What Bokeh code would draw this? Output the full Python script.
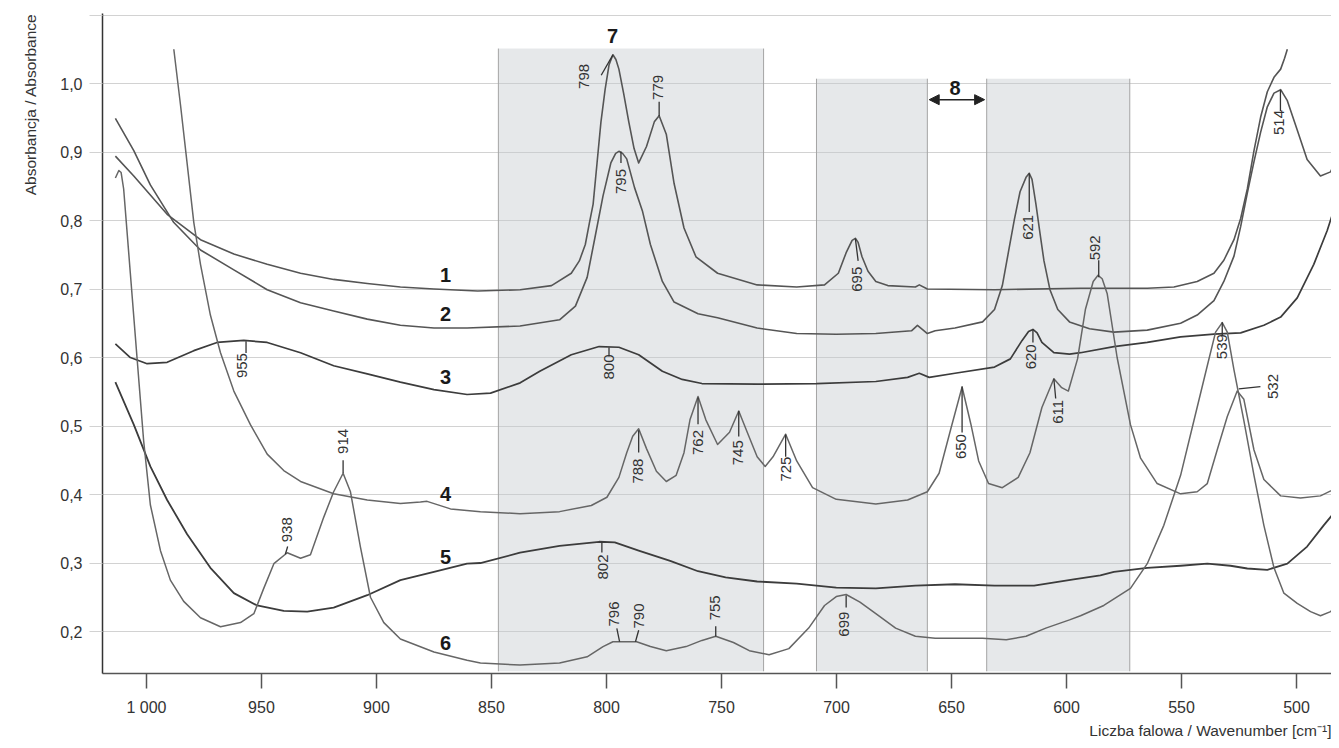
import math
from bokeh.plotting import figure
from bokeh.models import Range1d, FixedTicker, Label, Arrow, NormalHead, ColumnDataSource, Title
from bokeh.embed import file_html
from bokeh.resources import INLINE
from bokeh.core.properties import value

# ---------------- data (wavenumber cm-1, absorbance) ----------------
c1_w = [1013.5, 1005.5, 991, 976.5, 962, 947.5, 933, 918.6, 904, 889.6, 875, 856, 837.5, 823.9, 815.3,
        811.8, 809.2, 807.5, 805.8, 804.1, 802.4, 800.6, 798.9, 797.2, 795.9, 794.6, 792.5, 790.3, 788, 786.0,
        782.6, 779.2, 777.1, 774.0, 770.6, 766.3, 761.1, 751.7, 734.5, 717.3, 705.2, 699.2, 695.8, 693.2,
        691.8, 690.6, 688.9, 686.3, 682.9, 677.7, 665.7, 664.0, 660.5, 631.3, 593.9, 579.4, 564.9, 553.3,
        543.2, 535.9, 531.6, 527.2, 524.3, 521.4, 518.5, 515.6, 512.7, 509.8, 506.9, 505.2, 504.0]
c1_a = [0.894, 0.865, 0.809, 0.772, 0.751, 0.736, 0.723, 0.714, 0.708, 0.703, 0.700, 0.697, 0.699, 0.705, 0.723,
        0.741, 0.765, 0.795, 0.824, 0.884, 0.944, 0.991, 1.027, 1.042, 1.035, 1.021, 0.985, 0.944, 0.905, 0.884,
        0.908, 0.944, 0.953, 0.926, 0.854, 0.789, 0.747, 0.723, 0.706, 0.703, 0.706, 0.723, 0.753, 0.771,
        0.774, 0.768, 0.747, 0.726, 0.711, 0.705, 0.703, 0.706, 0.700, 0.699, 0.701, 0.701, 0.701, 0.703,
        0.711, 0.723, 0.742, 0.772, 0.803, 0.846, 0.902, 0.951, 0.988, 1.009, 1.021, 1.037, 1.050]

c2_w = [1013.5, 1005.5, 998.3, 988.1, 976.5, 962, 947.5, 933, 918.6, 904, 889.6, 875, 860.6, 837.6, 820.4,
        813.5, 808.4, 804.9, 801.5, 798.1, 796.0, 794.6, 793.0, 791.2, 787.8, 784.3, 780.9, 775.7, 770.6,
        760.2, 751.7, 734.5, 717.3, 700.1, 682.9, 667.4, 664.8, 662.3, 660.5, 657.1, 648.5, 636.5, 631.3,
        627.9, 625.3, 622.7, 620.2, 617.6, 616.2, 615.0, 613.3, 611.6, 609.8, 607.2, 603.8, 598.7, 590,
        579.4, 564.9, 550.4, 543.2, 535.9, 531.6, 527.2, 524.3, 521.4, 518.5, 515.6, 512.7, 509.8, 506.9,
        504.0, 499.7, 495.4, 489.6, 485.2, 482.3]
c2_a = [0.949, 0.902, 0.852, 0.797, 0.757, 0.728, 0.699, 0.680, 0.668, 0.656, 0.647, 0.643, 0.643, 0.646, 0.655,
        0.675, 0.717, 0.777, 0.836, 0.884, 0.898, 0.901, 0.898, 0.890, 0.848, 0.813, 0.765, 0.711, 0.681,
        0.664, 0.658, 0.643, 0.635, 0.634, 0.635, 0.639, 0.647, 0.640, 0.635, 0.639, 0.643, 0.652, 0.670,
        0.705, 0.753, 0.801, 0.842, 0.863, 0.869, 0.860, 0.824, 0.783, 0.741, 0.699, 0.670, 0.652, 0.642,
        0.637, 0.640, 0.650, 0.662, 0.683, 0.711, 0.748, 0.791, 0.840, 0.886, 0.929, 0.966, 0.986, 0.991,
        0.975, 0.932, 0.889, 0.865, 0.871, 0.892]

c3_w = [1013.5, 1007, 999.7, 991, 979.4, 969.3, 957.7, 947.5, 933, 918.6, 904, 889.6, 875, 860.6, 850.4,
        837.5, 829.0, 815.3, 803.2, 794.6, 786.0, 775.7, 767.1, 758.5, 734.5, 708.7, 682.9, 669.1, 664.0,
        659.7, 648.5, 631.3, 624.4, 619.3, 616.5, 614.6, 612.8, 610.7, 605.5, 598.7, 593.9, 579.4, 564.9,
        550.4, 535.9, 524.3, 514.2, 506.9, 499.7, 492.5, 486.7, 482.3]
c3_a = [0.620, 0.600, 0.591, 0.593, 0.610, 0.622, 0.625, 0.622, 0.607, 0.588, 0.576, 0.564, 0.553, 0.546, 0.548,
        0.563, 0.580, 0.604, 0.616, 0.615, 0.604, 0.580, 0.568, 0.562, 0.561, 0.562, 0.565, 0.571, 0.577,
        0.571, 0.577, 0.586, 0.598, 0.625, 0.638, 0.641, 0.636, 0.622, 0.607, 0.605, 0.607, 0.616, 0.622,
        0.630, 0.634, 0.636, 0.647, 0.659, 0.687, 0.736, 0.785, 0.831]

c4_w = [988.1, 985.2, 982.3, 979.4, 976.5, 972.2, 967.8, 962, 954.8, 947.5, 940.3, 933, 918.6, 904, 889.6,
        880.9, 878, 867.8, 854.8, 837.6, 820.4, 806.6, 799.8, 794.6, 791.2, 788.6, 786.0, 782.6, 778.3, 774.0,
        769.7, 766.3, 763.7, 760.2, 756.8, 751.7, 746.5, 742.5, 738.8, 734.5, 731.0, 727.6, 722.1, 717.3,
        710.4, 700.1, 682.9, 669.1, 660.5, 655.4, 650.2, 645.4, 641.6, 638.2, 633.9, 627.9, 621.0, 615.9,
        610.7, 605.5, 602.1, 599.2, 595.2, 591.8, 588.4, 586.3, 584.5, 582.3, 578, 572.2, 567.8, 560.6,
        550.4, 543.2, 538.8, 534.5, 530.1, 525.8, 522.9, 518.5, 514.2, 506.9, 498.3, 489.6, 482.3]
c4_a = [1.050, 0.969, 0.883, 0.797, 0.736, 0.662, 0.607, 0.551, 0.502, 0.459, 0.435, 0.419, 0.401, 0.392, 0.387,
        0.389, 0.390, 0.379, 0.375, 0.372, 0.375, 0.384, 0.396, 0.425, 0.461, 0.485, 0.496, 0.467, 0.434, 0.419,
        0.428, 0.461, 0.509, 0.543, 0.509, 0.473, 0.491, 0.522, 0.491, 0.455, 0.441, 0.455, 0.488, 0.449,
        0.410, 0.393, 0.386, 0.392, 0.404, 0.431, 0.497, 0.557, 0.503, 0.449, 0.416, 0.410, 0.425, 0.461,
        0.527, 0.569, 0.556, 0.551, 0.598, 0.670, 0.711, 0.720, 0.715, 0.693, 0.600, 0.502, 0.453, 0.416,
        0.401, 0.404, 0.416, 0.465, 0.514, 0.551, 0.539, 0.465, 0.422, 0.398, 0.395, 0.398, 0.410]

c5_w = [1013.5, 1005.5, 998.3, 991, 982.3, 972.2, 962, 951.9, 940.3, 930.1, 918.6, 904, 889.6, 875, 860.6,
        854.8, 837.6, 820.4, 803.2, 796.4, 786.0, 772.3, 760.2, 748.2, 734.5, 717.3, 700.1, 682.9, 665.7,
        648.5, 631.3, 614.1, 596.9, 585.3, 579.4, 564.9, 550.4, 538.8, 528.7, 521.4, 512.7, 504, 495.4,
        488.2, 482.3]
c5_a = [0.564, 0.502, 0.441, 0.392, 0.342, 0.293, 0.256, 0.238, 0.230, 0.229, 0.235, 0.253, 0.275, 0.287, 0.299,
        0.300, 0.315, 0.325, 0.331, 0.330, 0.318, 0.303, 0.288, 0.279, 0.273, 0.270, 0.264, 0.263, 0.267,
        0.269, 0.267, 0.267, 0.276, 0.282, 0.287, 0.293, 0.296, 0.299, 0.296, 0.292, 0.290, 0.299, 0.324,
        0.355, 0.379]

c6_w = [1013.5, 1012.0, 1011.0, 1009.9, 1007, 1004.1, 1001.2, 998.3, 993.9, 989.6, 983.8, 976.5, 967.8, 959.1,
        953.3, 949, 944.6, 938.8, 933, 928.7, 922.9, 918.6, 914.5, 911.3, 907, 902.6, 896.8, 889.6, 875,
        860.6, 854.8, 837.6, 820.4, 808.4, 801.5, 797.2, 786.9, 780.9, 774.0, 765.4, 758.5, 752.5, 744.8,
        737.9, 729.3, 720.7, 712.1, 705.2, 700.1, 695.8, 689.8, 682.9, 674.3, 665.7, 657.1, 648.5, 636.5,
        626.2, 617.6, 609.0, 598.7, 593.9, 583.8, 572.2, 564.9, 557.7, 550.4, 544.6, 538.8, 535.2, 532.3,
        530.1, 527.2, 522.9, 518.5, 514.2, 509.8, 505.5, 499.7, 493.9, 489.6, 485.2, 482.3]
c6_a = [0.862, 0.873, 0.870, 0.846, 0.723, 0.600, 0.478, 0.385, 0.318, 0.275, 0.244, 0.220, 0.207, 0.213,
        0.226, 0.263, 0.299, 0.315, 0.307, 0.312, 0.367, 0.404, 0.431, 0.404, 0.324, 0.250, 0.213, 0.189, 0.170,
        0.158, 0.154, 0.151, 0.154, 0.163, 0.178, 0.185, 0.185, 0.178, 0.172, 0.178, 0.187, 0.193, 0.184,
        0.172, 0.166, 0.175, 0.205, 0.238, 0.251, 0.254, 0.243, 0.226, 0.205, 0.193, 0.190, 0.190, 0.190,
        0.188, 0.193, 0.205, 0.217, 0.223, 0.238, 0.263, 0.299, 0.355, 0.428, 0.508, 0.588, 0.637, 0.651,
        0.637, 0.582, 0.508, 0.428, 0.355, 0.293, 0.256, 0.241, 0.229, 0.223, 0.229, 0.241]

curve_names = ["1", "2", "3", "4", "5", "6"]

x_ticks = [1000, 950, 900, 850, 800, 750, 700, 650, 600, 550, 500]
x_tick_labels = ["1 000", "950", "900", "850", "800", "750", "700", "650", "600", "550", "500"]
y_ticks = [0.2, 0.3, 0.4, 0.5, 0.6, 0.7, 0.8, 0.9, 1.0, 1.1]
y_tick_labels = ["0,2", "0,3", "0,4", "0,5", "0,6", "0,7", "0,8", "0,9", "1,0", ""]

# shaded wavenumber bands
band_left = [847.0, 708.7, 634.7]
band_right = [731.7, 660.5, 572.5]
band_top = [1.051, 1.007, 1.007]
band_bottom = [0.142, 0.142, 0.142]

# peak labels
peak_text = ["798", "779", "795", "695", "621", "592", "800", "620", "611", "788", "762", "745", "725",
             "650", "802", "796", "790", "755", "699", "955", "914", "938", "514", "539", "532"]
peak_tx = [809.7, 777.4, 793.7, 691.0, 616.7, 587.4, 798.9, 615.5, 603.5, 786.4, 760.2, 743.0, 722.0,
           645.9, 801.5, 796.7, 786.0, 753.0, 696.6, 958.4, 914.5, 938.8, 507.7, 532.3, 510.1]
peak_ty = [1.0104, 0.9943, 0.857, 0.7142, 0.790, 0.7601, 0.5861, 0.601, 0.5206, 0.4342, 0.4759, 0.461, 0.4371,
           0.47, 0.2942, 0.2255, 0.2226, 0.2346, 0.2107, 0.5882, 0.4775, 0.3485, 0.9431, 0.6158, 0.5577]
lead_x0 = [802.3, 777.1, 793.7, 690.6, 616.2, 586.0, 798.9, 614.6, 604.7, 786.0, 760.2, 742.5, 722.1,
           645.4, 802.0, 795.5, 786.0, 752.5, 695.8, 956.7, 914.5, 938.6, 507.0, 532.3, 525.1]
lead_y0 = [1.0121, 0.9734, 0.8841, 0.741, 0.8126, 0.7418, 0.6015, 0.6219, 0.5401, 0.4613, 0.5026, 0.4847, 0.455,
           0.4905, 0.3153, 0.2047, 0.2018, 0.2077, 0.235, 0.6066, 0.4315, 0.3241, 0.9599, 0.6312, 0.5543]
lead_x1 = [797.2, 777.1, 793.7, 691.8, 616.2, 586.0, 798.9, 614.6, 605.5, 786.0, 760.2, 742.5, 722.1,
           645.4, 802.0, 794.3, 787.4, 752.5, 695.8, 956.7, 914.5, 939.6, 507.0, 532.3, 515.7]
lead_y1 = [1.0419, 0.9526, 0.9007, 0.7737, 0.869, 0.7172, 0.6146, 0.6409, 0.569, 0.4937, 0.5416, 0.5218, 0.4877,
           0.5577, 0.3299, 0.1851, 0.1851, 0.1927, 0.2526, 0.6238, 0.45, 0.3128, 0.9907, 0.6514, 0.5574]

name_x = [870.0, 870.0, 870.0, 870.0, 870.0, 870.0]
name_y = [0.720, 0.663, 0.571, 0.401, 0.309, 0.183]

# ---------------- figure ----------------
FONT = "Liberation Sans"

p = figure(width=1331, height=740, output_backend="svg", toolbar_location=None,
           x_range=Range1d(1019.1, 484.8), y_range=Range1d(0.1387, 1.1022),
           min_border_left=102, min_border_right=0, min_border_top=13, min_border_bottom=67)
p.outline_line_color = None
p.background_fill_color = "white"
p.border_fill_color = "white"

# axes
p.xaxis.ticker = FixedTicker(ticks=x_ticks)
p.xaxis.major_label_overrides = {t: l for t, l in zip(x_ticks, x_tick_labels)}
p.yaxis.ticker = FixedTicker(ticks=y_ticks)
p.yaxis.major_label_overrides = {t: l for t, l in zip(y_ticks, y_tick_labels)}
p.ygrid.ticker = FixedTicker(ticks=y_ticks)
p.xgrid.visible = False
p.ygrid.grid_line_color = "#d2d2d2"
p.ygrid.grid_line_width = 1

for ax in (p.xaxis[0], p.yaxis[0]):
    ax.major_label_text_font = FONT
    ax.major_label_text_font_size = "16px"
    ax.major_label_text_color = "#333333"
    ax.minor_tick_line_color = None
    ax.axis_line_width = 1.5

p.xaxis.axis_line_color = "#555555"
p.xaxis.major_tick_line_color = "#555555"
p.xaxis.major_tick_line_width = 1.5
p.xaxis.major_tick_out = 15
p.xaxis.major_tick_in = 0
p.xaxis.major_label_standoff = 10

p.yaxis.axis_line_color = "#333333"
p.yaxis.major_tick_line_color = "#d2d2d2"
p.yaxis.major_tick_line_width = 1
p.yaxis.major_tick_out = 13
p.yaxis.major_tick_in = 0
p.yaxis.major_label_standoff = 7

# axis titles (side panels)
p.add_layout(Title(text="Absorbancja / Absorbance", align="right", vertical_align="top", text_font=FONT,
                   text_font_size="15.5px", text_font_style="normal", text_color="#333333",
                   standoff=34), "left")
p.add_layout(Title(text="Liczba falowa / Wavenumber [cm⁻¹]", align="right", text_font=FONT,
                   text_font_size="15.5px", text_font_style="normal", text_color="#333333",
                   standoff=3), "below")

# shaded bands
p.quad(left=band_left, right=band_right, top=band_top, bottom=band_bottom,
       fill_color="#c4c7cc", fill_alpha=0.42, line_color=None)
p.segment(x0=band_left + band_right, y0=band_bottom * 2, x1=band_left + band_right, y1=band_top * 2,
          line_color="#a4a4a4", line_width=1)

# curves
curves = [(c1_w, c1_a, "#555555", 1.6), (c2_w, c2_a, "#555555", 1.6), (c3_w, c3_a, "#3c3c3c", 1.7),
          (c4_w, c4_a, "#666666", 1.5), (c5_w, c5_a, "#3c3c3c", 1.8), (c6_w, c6_a, "#666666", 1.5)]
for w, a, col, lw in curves:
    p.line(w, a, line_color=col, line_width=lw, line_join="round")

# peak label leaders & texts
p.segment(x0=lead_x0, y0=lead_y0, x1=lead_x1, y1=lead_y1, line_color="#333333", line_width=1.3)
src = ColumnDataSource(dict(x=peak_tx, y=peak_ty, text=peak_text))
p.text(x="x", y="y", text="text", source=src, angle=math.pi / 2,
       text_font=value(FONT), text_font_size="15px", text_color="#333333",
       text_align="center", text_baseline="middle")

# curve numbers
p.text(x=name_x, y=name_y, text=curve_names, text_font=value(FONT), text_font_style="bold",
       text_font_size="20px", text_color="#1a1a1a", text_align="center", text_baseline="middle")
p.add_layout(Label(x=797.3, y=1.070, text="7", text_font=FONT, text_font_style="bold",
                   text_font_size="20px", text_color="#1a1a1a", text_align="center", text_baseline="middle"))
p.add_layout(Label(x=648.5, y=0.994, text="8", text_font=FONT, text_font_style="bold",
                   text_font_size="20px", text_color="#1a1a1a", text_align="center", text_baseline="middle"))
p.add_layout(Arrow(x_start=659.7, y_start=0.9764, x_end=635.6, y_end=0.9764,
                   line_color="#222222", line_width=1.5,
                   start=NormalHead(size=10, fill_color="#222222", line_color="#222222"),
                   end=NormalHead(size=10, fill_color="#222222", line_color="#222222")))

open("out.html", "w").write(file_html(p, INLINE))
